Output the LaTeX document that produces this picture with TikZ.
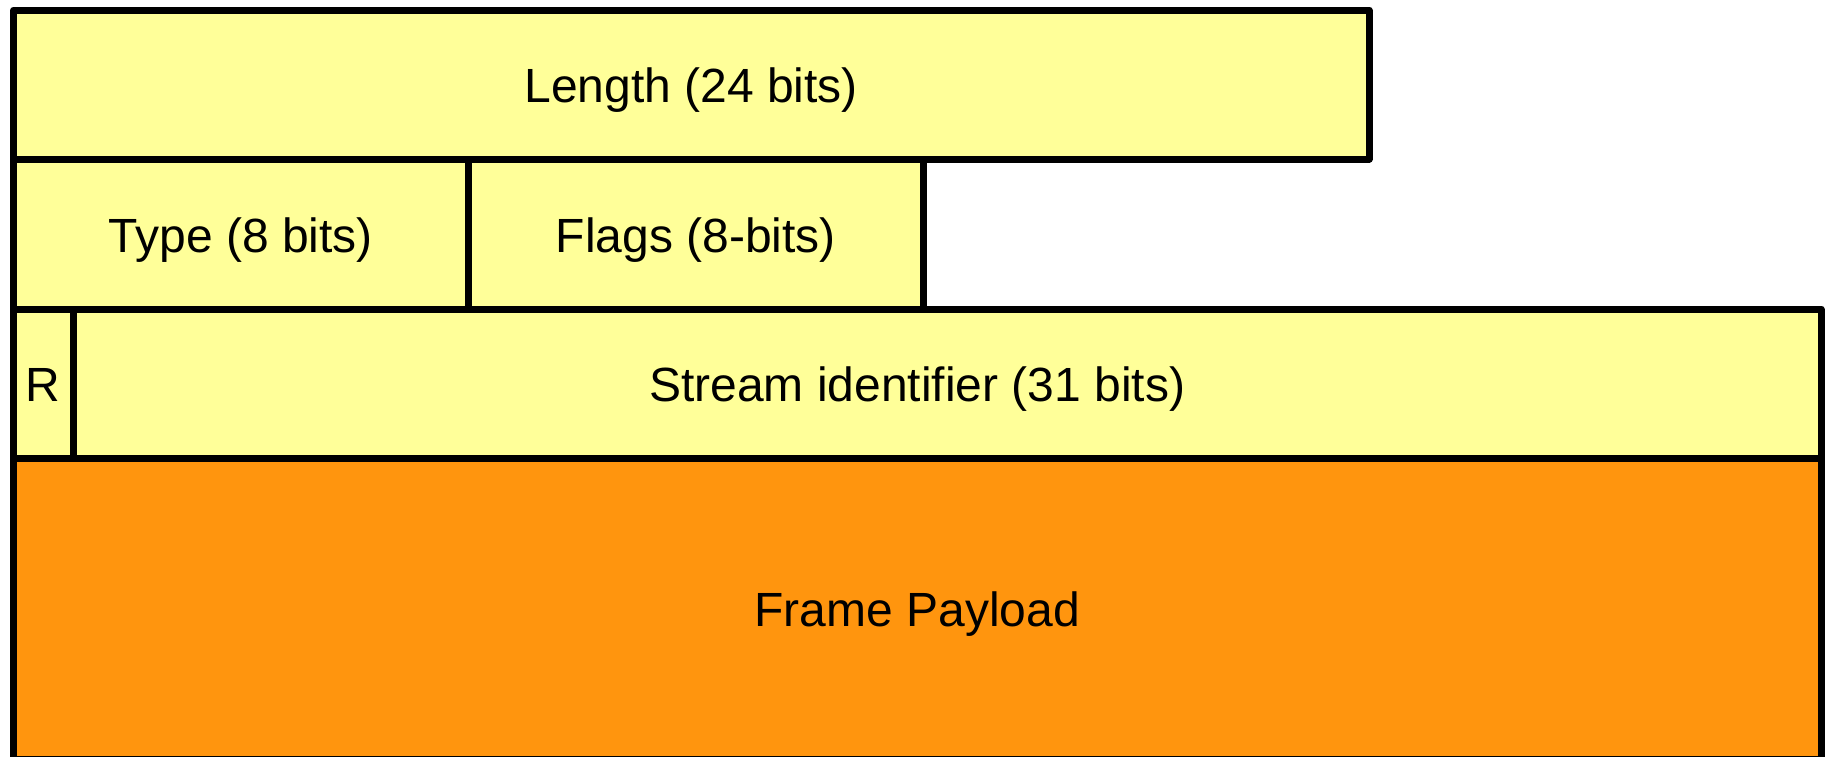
\documentclass[tikz,border=0pt]{standalone}
\usepackage{fontspec}
\setmainfont{Liberation Sans}
\definecolor{fieldyellow}{HTML}{FFFF99}
\definecolor{payorange}{HTML}{FF950E}
\tikzset{
  field/.style={draw=black, line width=7pt, line join=round, fill=fieldyellow,
    rectangle, inner sep=0pt, outer sep=0pt, anchor=center,
    font=\fontsize{48}{52}\selectfont, text=black,
    text height=46.2pt, text depth=10.2pt},
  payload/.style={field, fill=payorange}
}
\begin{document}
\begin{tikzpicture}[x=1pt,y=-1pt]
\useasboundingbox (0,0) rectangle (1825,756);
\node[payload, minimum width=1807.5pt, minimum height=301pt] (pay) at (917.25,608.5) {Frame Payload};
\node[field, minimum width=1355.5pt, minimum height=149pt] (len) at (691.25,84.5) {Length (24 bits)};
\node[field, minimum width=454.5pt, minimum height=149.5pt] (type) at (240.75,234.25) {Type (8 bits)};
\node[field, minimum width=455.5pt, minimum height=149.5pt] (flags) at (695.75,234.25) {Flags (8-bits)};
\node[field, minimum width=1807.5pt, minimum height=149pt] (sid) at (917.25,383.5) {Stream identifier (31 bits)};
\node[field, minimum width=59.5pt, minimum height=149pt] (r) at (43.25,383.5) {R};
\end{tikzpicture}
\end{document}
